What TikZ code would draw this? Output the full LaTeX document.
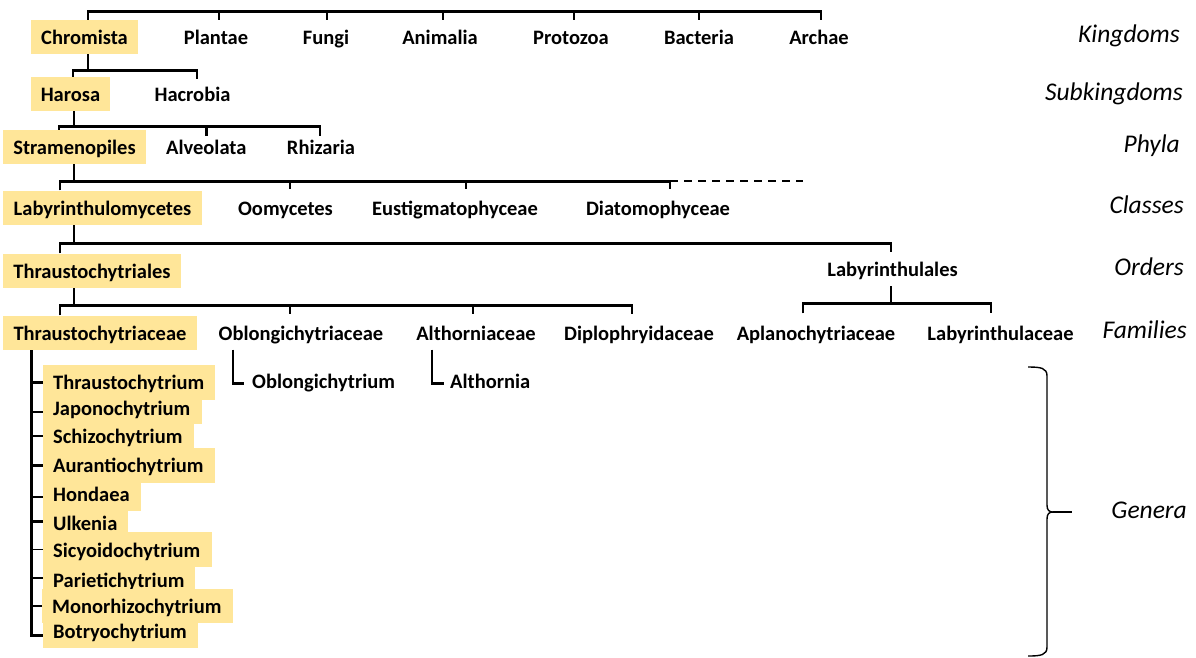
\documentclass[tikz,border=0pt]{standalone}
\usepackage{fontspec}
\setmainfont{Carlito}
\usetikzlibrary{backgrounds,calc}
\definecolor{gold}{HTML}{FFE699}
\newcommand\genus[7]{%
  \pgfmathsetmacro\gth{#5-#4}\pgfmathsetmacro\gtd{#6-#5}\pgfmathsetmacro\gtw{#7-#3-20}%
  \node[gen, text height=\gth pt, text depth=\gtd pt, text width=\gtw pt] (#1) at (#3,#5) {#2};}
\begin{document}
\begin{tikzpicture}[x=1pt,y=-1pt,
  lvl/.style={font=\bfseries\fontsize{20.5}{24}\selectfont, text height=19pt, text depth=4pt, minimum height=34pt, inner sep=0pt},
  hl/.style={lvl, fill=gold},
  gen/.style={font=\bfseries\fontsize{20.5}{24}\selectfont, fill=gold, anchor=base west, inner xsep=10pt, inner ysep=0pt, align=left},
  leaf/.style={font=\bfseries\fontsize{20.5}{24}\selectfont, text height=13pt, text depth=4pt, inner ysep=0pt, anchor=base west},
  rank/.style={font=\itshape\fontsize{25.5}{30}\selectfont, anchor=base east, inner sep=0pt},
  tree/.style={line width=2.8pt},
  thin/.style={line width=1.7pt},
  dashline/.style={line width=2pt, dash pattern=on 8pt off 6pt},
  bracestyle/.style={line width=1.4pt}]
\useasboundingbox (0,0) rectangle (1196,657);

% Kingdoms
\node[hl, minimum width=107pt] (chro) at (84.5,37) {Chromista};
\node[lvl] (plan) at (216,37) {Plantae};
\node[lvl] (fung) at (326,37) {Fungi};
\node[lvl] (anim) at (440,37) {Animalia};
\node[lvl] (prot) at (571,37) {Protozoa};
\node[lvl] (bact) at (699,37) {Bacteria};
\node[lvl] (arch) at (819,37) {Archae};
% Subkingdoms
\node[hl, minimum width=79pt] (haro) at (70.5,94) {Harosa};
\node[lvl] (hacr) at (192.5,94) {Hacrobia};
% Phyla
\node[hl, minimum width=143pt] (stra) at (74.5,147) {Stramenopiles};
\node[lvl] (alve) at (206.3,147) {Alveolata};
\node[lvl] (rhiz) at (321,147) {Rhizaria};
% Classes
\node[hl, minimum width=199pt] (laby) at (102.5,207.5) {Labyrinthulomycetes};
\node[lvl] (oomy) at (285.5,207.5) {Oomycetes};
\node[lvl] (eust) at (455,207.5) {Eustigmatophyceae};
\node[lvl] (diat) at (658,207.5) {Diatomophyceae};
% Orders
\node[hl, minimum width=178pt] (thra) at (92,270.5) {Thraustochytriales};
\node[lvl] (lbal) at (892.5,269) {Labyrinthulales};
% Families
\node[hl, minimum width=194pt] (tfam) at (100,332.5) {Thraustochytriaceae};
\node[lvl] (oblf) at (301,332.5) {Oblongichytriaceae};
\node[lvl] (alth) at (476,332.5) {Althorniaceae};
\node[lvl] (dipl) at (639,332.5) {Diplophryidaceae};
\node[lvl] (apla) at (816,332.5) {Aplanochytriaceae};
\node[lvl] (lbac) at (1000.5,332.5) {Labyrinthulaceae};
% Genera
\genus{g1}{Thraustochytrium}{43}{365}{389}{400}{215}
\genus{g2}{Japonochytrium}{43}{400}{415}{424}{202}
\genus{g3}{Schizochytrium}{43}{424}{443}{448}{194}
\genus{g4}{Aurantiochytrium}{43}{448}{472}{483}{215}
\genus{g5}{Hondaea}{43}{483}{501}{511}{141}
\genus{g6}{Ulkenia}{43}{511}{530}{532}{128}
\genus{g7}{Sicyoidochytrium}{43}{532}{557}{567}{212}
\genus{g8}{Parietichytrium}{43}{567}{587}{589}{195}
\genus{g9}{Monorhizochytrium}{42}{589}{613}{623}{233}
\genus{g10}{Botryochytrium}{43}{623}{638}{648}{198}
\node[leaf, inner xsep=8pt] (obl) at (244,388) {Oblongichytrium};
\node[leaf, inner xsep=6pt] (alt) at (444,388) {Althornia};

% Rank labels
\node[rank] (rk) at (1180,42) {Kingdoms};
\node[rank] (rsk) at (1183,100) {Subkingdoms};
\node[rank] (rp) at (1180,152) {Phyla};
\node[rank] (rc) at (1184,213) {Classes};
\node[rank] (ro) at (1184,275) {Orders};
\node[rank] (rf) at (1187,338) {Families};
\node[rank] (rg) at (1187,518) {Genera};

\begin{pgfonlayer}{background}
% Kingdoms bar
\draw[tree] ([xshift=3.5pt]chro.north) |- ([xshift=2pt,yshift=8pt]arch.north) -- ([xshift=2pt]arch.north);
\foreach \n/\dx in {plan/3,fung/1,anim/3,prot/3,bact/0}
  \draw[tree] ([xshift=\dx pt]\n.north) -- ++(0,-8);
% Chromista -> subkingdoms
\draw[tree] ([xshift=3.5pt]chro.south) -- ++(0,17);
\draw[tree] ([xshift=2.5pt,yshift=-2pt]haro.north) |- ([xshift=4.5pt,yshift=6pt]hacr.north) -- ([xshift=4.5pt,yshift=-2pt]hacr.north);
% Harosa -> phyla
\draw[tree] ([xshift=3.5pt]haro.south) -- ++(0,16);
\draw[tree] ([xshift=-15.5pt,yshift=-6pt]stra.north) |- ([xshift=-1pt,yshift=3pt]rhiz.north) -- ([xshift=-1pt,yshift=-6pt]rhiz.north);
\draw[tree] ([yshift=3pt]alve.north) -- ++(0,9);
% Stramenopiles -> classes
\draw[tree] ([xshift=-0.5pt]stra.south) -- ++(0,17);
\draw[tree] ([xshift=-42.5pt]laby.north) |- ([xshift=12pt,yshift=9pt]diat.north) -- ([xshift=12pt,yshift=1pt]diat.north);
\draw[tree] ([xshift=4.5pt,yshift=9pt]oomy.north) -- ++(0,8);
\draw[tree] ([xshift=11pt,yshift=9pt]eust.north) -- ++(0,8);
\draw[dashline] ([xshift=12pt,yshift=9pt]diat.north) -- ++(133,0);
% Labyrinthulomycetes -> orders
\draw[tree] ([xshift=-28.5pt]laby.south) -- ++(0,18);
\draw[tree] ([xshift=-32pt]thra.north) |- ([xshift=-1.5pt,yshift=8.5pt]lbal.north) -- ([xshift=-1.5pt]lbal.north);
% Thraustochytriales -> families
\draw[tree] ([xshift=-18pt]thra.south) -- ++(0,18.5);
\draw[tree] ([xshift=-40pt]tfam.north) |- ([xshift=-7pt,yshift=9.5pt]dipl.north) -- ([xshift=-7pt,yshift=1pt]dipl.north);
\draw[tree] ([xshift=-11pt,yshift=9.5pt]oblf.north) -- ++(0,8);
\draw[tree] ([xshift=-3pt,yshift=9.5pt]alth.north) -- ++(0,8);
% Labyrinthulales -> families
\draw[tree] ([xshift=-1.5pt]lbal.south) -- ++(0,18);
\draw[tree] ([xshift=-13pt,yshift=2pt]apla.north) |- ([xshift=-9.5pt,yshift=11.5pt]lbac.north) -- ([xshift=-9.5pt,yshift=2pt]lbac.north);
% Families -> genera
\draw[tree] ([xshift=29pt]tfam.south west) |- (g10.west);
\foreach \g in {g1,g2,g3,g4,g5,g6}
  \draw[tree] (\g.west) -- ++(-11,0);
\foreach \g in {g7,g8,g9}
  \draw[thin] (\g.west) -- ++(-11,0);
\draw[tree] ([xshift=-68pt]oblf.south) |- (obl.west);
\draw[tree] ([xshift=-44pt]alth.south) |- (alt.west);
\end{pgfonlayer}

% Brace for genera
\coordinate (btip) at (1053,512);
\draw[bracestyle] (1028,367) .. controls (1041,367) and (1047,368) .. (1047,376) -- (1047,505)
  .. controls (1047,510) and (1049,512) .. (btip)
  .. controls (1049,512) and (1047,514) .. (1047,519) -- (1047,647)
  .. controls (1047,655) and (1041,656) .. (1028,656);
\draw[bracestyle] (btip) -- (1072,512);
\end{tikzpicture}
\end{document}
